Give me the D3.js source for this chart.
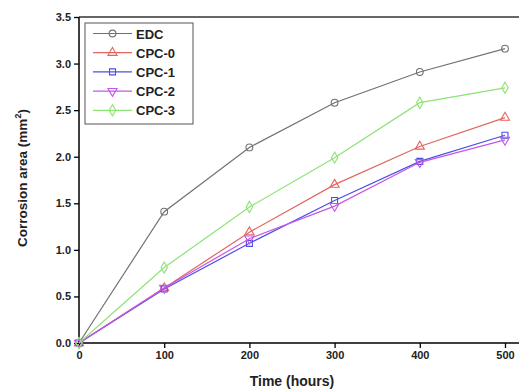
<!DOCTYPE html>
<html>
<head>
<meta charset="utf-8">
<script src="https://cdn.jsdelivr.net/npm/d3@7"></script>
<style>
  body { margin: 0; background: #fff; }
  text { font-family: Arial, "Liberation Sans", sans-serif; }
</style>
</head>
<body>
<svg id="chart" width="519" height="389"></svg>
<script>
const hours = [0, 100, 200, 300, 400, 500];
const edc = [0, 1.41, 2.10, 2.58, 2.91, 3.16];
const cpc0 = [0, 0.59, 1.19, 1.70, 2.11, 2.42];
const cpc1 = [0, 0.58, 1.07, 1.53, 1.95, 2.23];
const cpc2 = [0, 0.59, 1.12, 1.47, 1.94, 2.18];
const cpc3 = [0, 0.81, 1.46, 1.99, 2.58, 2.74];
const seriesNames = ['EDC', 'CPC-0', 'CPC-1', 'CPC-2', 'CPC-3'];
const xTicks = [0, 100, 200, 300, 400, 500];
const yTicks = [0, 0.5, 1.0, 1.5, 2.0, 2.5, 3.0, 3.5];

const series = [
  {name: seriesNames[0], values: edc, color: '#727272', symbol: d3.symbolCircle},
  {name: seriesNames[1], values: cpc0, color: '#e2665f', symbol: d3.symbolTriangle},
  {name: seriesNames[2], values: cpc1, color: '#4f4fe2', symbol: d3.symbolSquare},
  {name: seriesNames[3], values: cpc2, color: '#c456ea', symbol: 'down'},
  {name: seriesNames[4], values: cpc3, color: '#8fe276', symbol: d3.symbolDiamond}
];

const svg = d3.select('#chart'),
  margin = {top: 17, right: 0, bottom: 46, left: 79},
  width = 426,          // 0..500 span
  height = +svg.attr('height') - margin.top - margin.bottom;

const x = d3.scaleLinear().domain([0, 500]).range([0, width]);
const y = d3.scaleLinear().domain([0, 3.5]).range([height, 0]);

const g = svg.append('g')
  .attr('transform', 'translate(' + margin.left + ',' + margin.top + ')');

// top frame line
g.append('line')
  .attr('x1', 0).attr('x2', 519 - margin.left)
  .attr('y1', 0).attr('y2', 0)
  .attr('stroke', '#333').attr('stroke-width', 1.5);

const xAxis = g.append('g')
  .attr('transform', 'translate(0,' + height + ')')
  .call(d3.axisBottom(x).tickValues(xTicks).tickSize(5).tickPadding(3).tickFormat(d3.format('d')));
xAxis.select('.domain').attr('d', 'M0,0H' + (519 - margin.left)).attr('stroke-width', 1.5);

const yAxis = g.append('g')
  .call(d3.axisLeft(y).tickValues(yTicks).tickSize(5).tickPadding(3).tickFormat(d3.format('.1f')));
yAxis.select('.domain').attr('d', 'M0,0V' + height).attr('stroke-width', 1.5);

[xAxis, yAxis].forEach(function(a) {
  a.selectAll('text').attr('font-size', 11).attr('font-weight', 'bold').attr('fill', '#222');
  a.selectAll('.tick line').attr('stroke-width', 1.3);
});

svg.append('text')
  .attr('x', margin.left + 213).attr('y', 386)
  .attr('text-anchor', 'middle')
  .attr('font-size', 14).attr('font-weight', 'bold').attr('fill', '#222')
  .text('Time (hours)');

const yt = svg.append('text')
  .attr('transform', 'translate(27,178)rotate(-90)')
  .attr('text-anchor', 'middle')
  .attr('font-size', 13.5).attr('font-weight', 'bold').attr('fill', '#222');
yt.append('tspan').text('Corrosion area (mm');
yt.append('tspan').attr('font-size', 9).attr('dy', -6).text('2');
yt.append('tspan').attr('dy', 6).text(')');

function symbolPath(s, size) {
  if (s === 'down') {
    return d3.symbol().type(d3.symbolTriangle).size(size)();
  }
  return d3.symbol().type(s).size(size)();
}

const line1 = d3.line()
  .x(function(d, i) { return x(hours[i]); })
  .y(function(d) { return y(d); });

series.forEach(function(s) {
  g.append('path')
    .datum(s.values)
    .attr('fill', 'none')
    .attr('stroke', s.color)
    .attr('stroke-width', 1.2)
    .attr('d', line1);
  g.selectAll(null)
    .data(s.values)
    .enter().append('path')
    .attr('d', symbolPath(s.symbol, 36))
    .attr('transform', function(d, i) {
      return 'translate(' + x(hours[i]) + ',' + y(d) + ')' + (s.symbol === 'down' ? 'rotate(180)' : '');
    })
    .attr('fill', 'none')
    .attr('stroke', s.color)
    .attr('stroke-width', 1.1);
});

// legend
const lg = svg.append('g').attr('transform', 'translate(85,23)');
lg.append('rect')
  .attr('width', 108).attr('height', 101)
  .attr('fill', '#fff').attr('stroke', '#555').attr('stroke-width', 1);
series.forEach(function(s, i) {
  const yy = 10.5 + i * 19.2;
  lg.append('line')
    .attr('x1', 8).attr('x2', 47).attr('y1', yy).attr('y2', yy)
    .attr('stroke', s.color).attr('stroke-width', 1.2);
  lg.append('path')
    .attr('d', symbolPath(s.symbol, 36))
    .attr('transform', 'translate(27.5,' + yy + ')' + (s.symbol === 'down' ? 'rotate(180)' : ''))
    .attr('fill', 'none').attr('stroke', s.color).attr('stroke-width', 1.1);
  lg.append('text')
    .attr('x', 51).attr('y', yy + 5)
    .attr('font-size', 13).attr('font-weight', 'bold').attr('fill', '#222')
    .text(s.name);
});
</script>
</body>
</html>
